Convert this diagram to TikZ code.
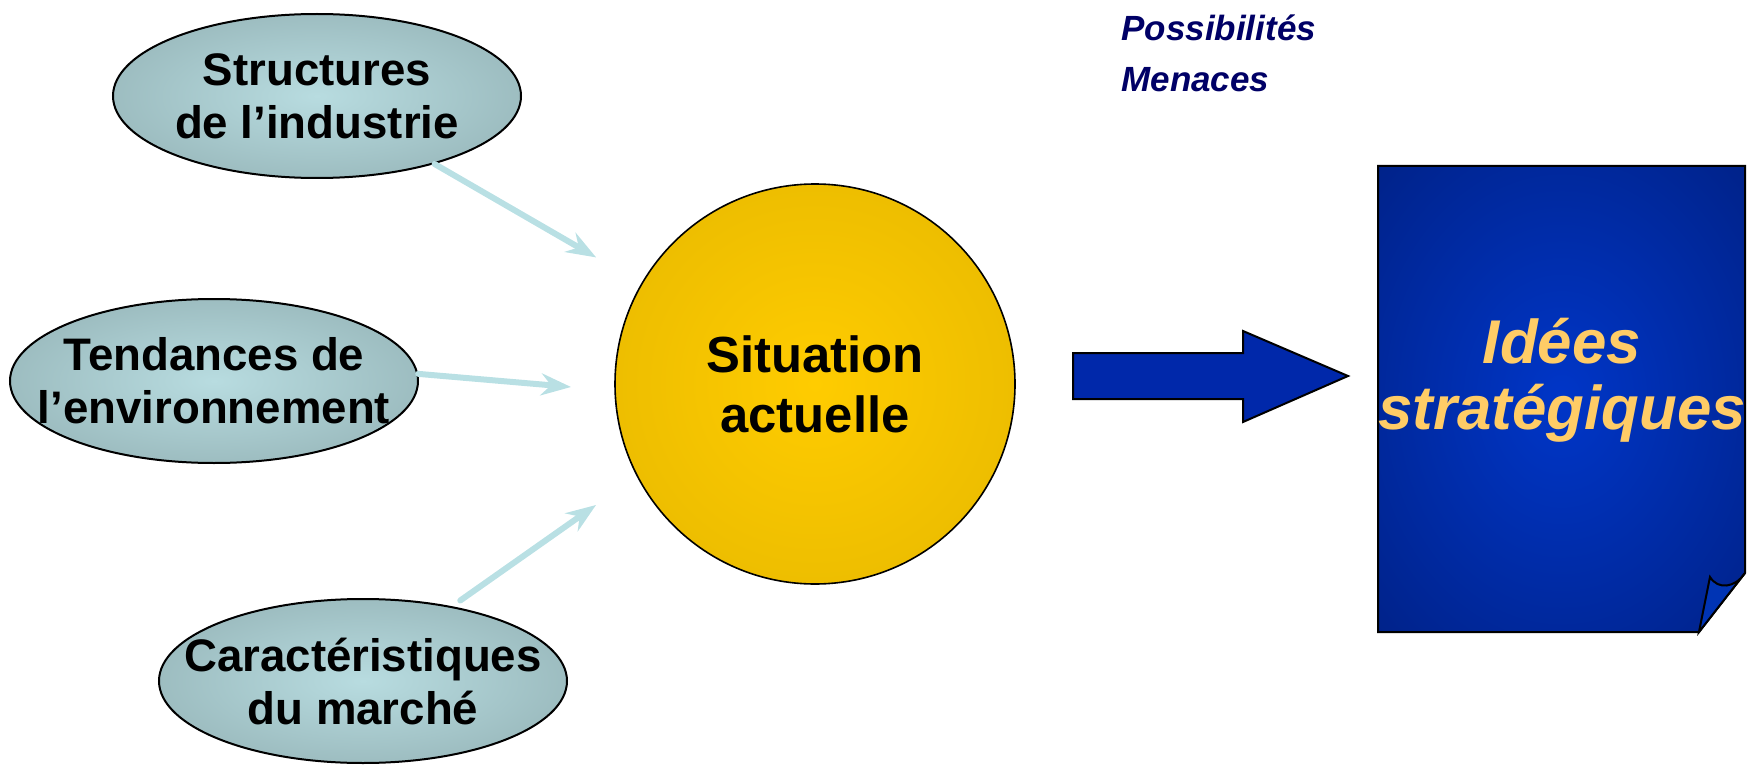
\documentclass[tikz,border=0pt]{standalone}
\usepackage{fontspec}
\setmainfont{Liberation Sans}
\usetikzlibrary{shapes.geometric,arrows.meta}
\definecolor{bubblein}{RGB}{184,220,224}
\definecolor{bubbleout}{RGB}{130,158,161}
\definecolor{goldin}{RGB}{255,204,0}
\definecolor{goldout}{RGB}{220,176,0}
\definecolor{docin}{RGB}{0,54,200}
\definecolor{docout}{RGB}{0,26,112}
\definecolor{flapblue}{RGB}{0,52,180}
\definecolor{arrowmid}{RGB}{0,56,224}
\definecolor{arrowdark}{RGB}{0,40,170}
\definecolor{feedblue}{RGB}{185,224,228}
\definecolor{navytext}{RGB}{0,0,102}
\definecolor{ideagold}{RGB}{255,204,102}
\pgfdeclareradialshading{bubbleglow}{\pgfpoint{0bp}{0bp}}{color(0bp)=(bubblein); color(50bp)=(bubbleout)}
\pgfdeclareradialshading{goldglow}{\pgfpoint{0bp}{0bp}}{color(0bp)=(goldin); color(50bp)=(goldout)}
\pgfdeclareradialshading{docglow}{\pgfpoint{0bp}{0bp}}{color(0bp)=(docin); color(50bp)=(docout)}
\begin{document}
\begin{tikzpicture}[x=0.5pt,y=-0.5pt]
		\tikzset{bubble/.style = {shape=ellipse,draw,line width=1pt,shading=bubbleglow,minimum width=204pt,minimum height=82pt,inner sep=0pt}}
		\tikzset{bubbletext/.style = {font=\bfseries\fontsize{22.8}{26.5}\selectfont,align=center}}
		\tikzset{feed/.style = {->,> = {Stealth[length=15pt,width=11pt,inset=5pt]},draw=feedblue,line width=3pt,line cap=round}}
		\useasboundingbox (0,0) rectangle (1757,765);
		\node[bubble,label={[bubbletext,name=structtext]center:{Structures\\de l’industrie}}] (struct) at (317,96) {};
		\node[bubble,label={[bubbletext,name=envtext]center:{Tendances de\\l’environnement}}] (env) at (214,381) {};
		\node[bubble,label={[bubbletext,name=mkttext]center:{Caractéristiques\\du marché}}] (mkt) at (363,681) {};
		\node[shape=circle,draw,line width=0.8pt,shading=goldglow,minimum size=200pt,inner sep=0pt,font=\bfseries\fontsize{25.4}{30}\selectfont,align=center] (sit) at (815,384) {Situation\\actuelle};
		\coordinate (envtip) at (571,387);
		\coordinate (mkttip) at (596,505);
		\path (struct) edge[feed,shorten >=26pt] (sit);
		\path (env.2) edge[feed] (envtip);
		\path (mkt.40) edge[feed,shorten <=5pt] (mkttip);
		% big arrow
		\path[draw,line width=1pt,top color=arrowdark,middle color=arrowmid,bottom color=arrowdark] (1073,353) -- (1243,353) -- (1243,331) -- (1348,376) -- (1243,422) -- (1243,399) -- (1073,399) -- cycle;
		% document with folded corner
		\path[draw,line width=1pt,shading=docglow] (1378,166) -- (1745,166) -- (1745,573) -- (1699,632) -- (1378,632) -- cycle;
		\path[draw,line width=1pt,fill=flapblue] (1699,632) -- (1710,577) .. controls (1718,590) and (1735,588) .. (1745,573) -- cycle;
		\node[font=\bfseries\itshape\fontsize{30.9}{33}\selectfont,text=ideagold,align=center] (ideas) at (1562,380) {Idées\\stratégiques};
		\node[font=\bfseries\itshape\fontsize{17.5}{25.5}\selectfont,text=navytext,align=left,anchor=north west,inner sep=0pt] (outlook) at (1121,14) {Possibilités\\Menaces};
	\end{tikzpicture}
\end{document}
